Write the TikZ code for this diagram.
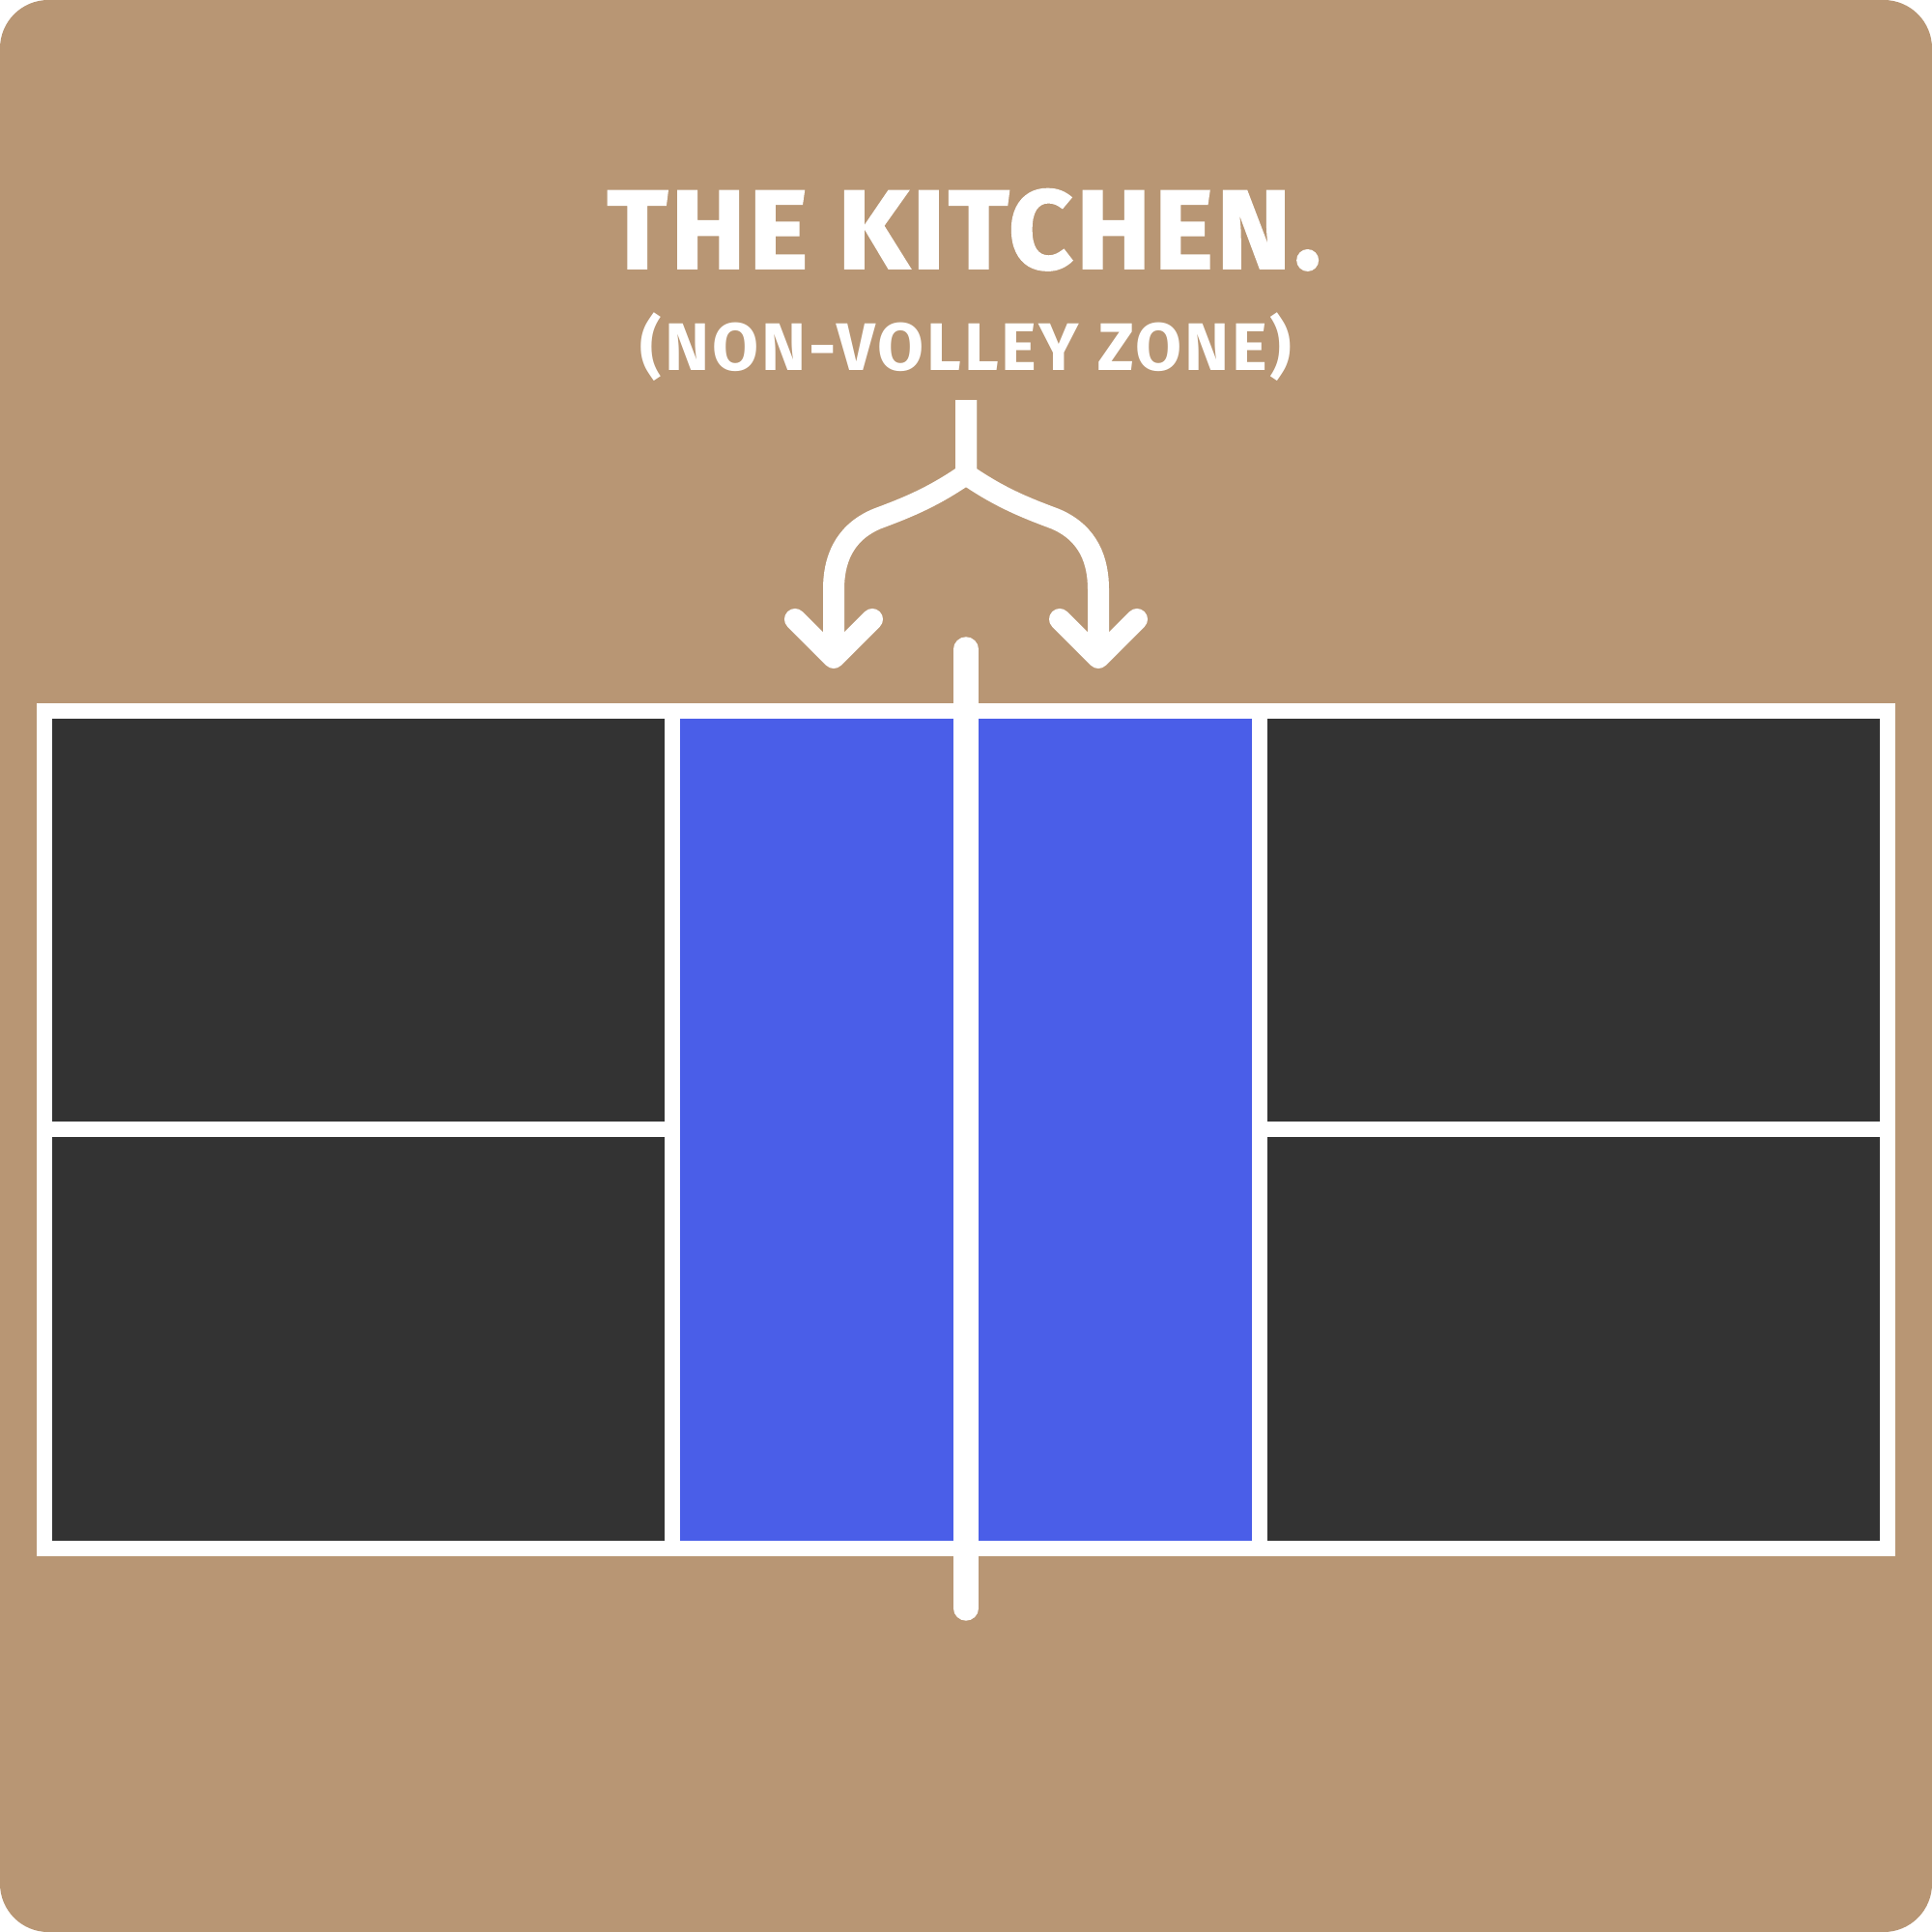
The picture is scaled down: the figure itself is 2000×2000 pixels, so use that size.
\documentclass[tikz,border=0pt]{standalone}
\usepackage{fontspec}
\setmainfont{Fira Sans}[LetterSpace=4]
\newfontfamily\titlefont{Fira Sans}[FakeStretch=1.0, FakeBold=1.6, LetterSpace=3]
\usepackage{tikz}

\definecolor{courtbrown}{HTML}{B89674}
\definecolor{courtdark}{HTML}{333333}
\definecolor{kitchenblue}{HTML}{4A5EE8}

\begin{document}
\begin{tikzpicture}[x=0.01cm,y=-0.01cm,
  courtline/.style={draw=white, line width=0.165cm},
  arrowline/.style={draw=white, line width=0.22cm}]
\useasboundingbox (0,0) rectangle (2000,2000);
\fill[white] (0,0) rectangle (2000,2000);
\fill[courtbrown, rounded corners=0.5cm] (0,0) rectangle (2000,2000);

% title
\node[anchor=base, text=white, inner sep=0pt] (title) at (998,278)
  {\titlefont\fontsize{33}{33}\selectfont\bfseries THE KITCHEN.};
\node[anchor=base, text=white, inner sep=0pt] (subtitle) at (1000,383)
  {\fontsize{19.8}{20}\selectfont\bfseries (NON-VOLLEY ZONE)};

% court
\fill[courtdark] (46,736) rectangle (1954,1603);
\fill[kitchenblue] (696,736) rectangle (1304,1603);
\draw[courtline] (46,1169) -- (696,1169);
\draw[courtline] (1304,1169) -- (1954,1169);
\draw[courtline] (696,736) -- (696,1603);
\draw[courtline] (1304,736) -- (1304,1603);
\draw[courtline] (46,736) rectangle (1954,1603);
\draw[draw=white, line width=0.254cm, line cap=round] (1000,672) -- (1000,1665);

% split arrow
\draw[arrowline] (1000,414) -- (1000,491)
  .. controls (965,515) and (940,525) .. (908,537)
  .. controls (872,552) and (863,582) .. (863,610) -- (863,678);
\draw[arrowline] (1000,414) -- (1000,491)
  .. controls (1035,515) and (1060,525) .. (1092,537)
  .. controls (1128,552) and (1137,582) .. (1137,610) -- (1137,678);
\draw[arrowline, line cap=round, line join=round] (823,641) -- (863,681) -- (903,641);
\draw[arrowline, line cap=round, line join=round] (1097,641) -- (1137,681) -- (1177,641);
\end{tikzpicture}
\end{document}
